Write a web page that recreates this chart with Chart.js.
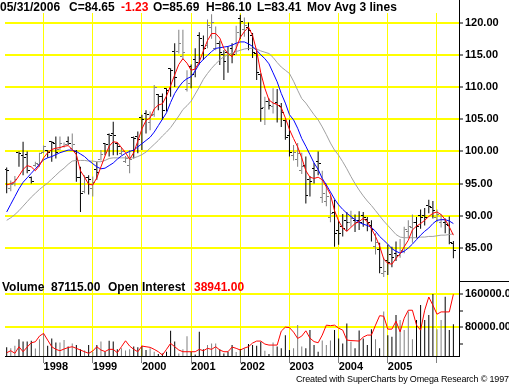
<!DOCTYPE html>
<html><head><meta charset="utf-8">
<script src="https://cdn.jsdelivr.net/npm/chart.js@4.4.1/dist/chart.umd.min.js"></script>
<style>
html,body{margin:0;padding:0;background:#fff;}
#wrap{position:relative;width:509px;height:384px;overflow:hidden;background:#fff;}
#c{position:absolute;left:0;top:0;}
.t{position:absolute;font:bold 12px "Liberation Sans",Arial,sans-serif;line-height:12px;white-space:nowrap;color:#000;}
.red{color:#ff0000;}
#foot{position:absolute;left:296px;top:375px;font:9px "Liberation Sans",Arial,sans-serif;line-height:9px;letter-spacing:-0.15px;white-space:nowrap;color:#000;}
</style></head><body>
<div id="wrap">
<canvas id="c" width="509" height="384"></canvas>
<span class="t" id="h0" style="left:0px;top:1px"></span>
<span class="t" id="h1" style="left:69px;top:1px"></span>
<span class="t red" id="h2" style="left:121px;top:1px"></span>
<span class="t" id="h3" style="left:153px;top:1px"></span>
<span class="t" id="h4" style="left:206px;top:1px"></span>
<span class="t" id="h5" style="left:257px;top:1px"></span>
<span class="t" id="h6" style="left:307px;top:1px">Mov Avg 3 lines</span>
<span class="t" style="left:2px;top:281px">Volume</span>
<span class="t" id="v1" style="left:51px;top:281px"></span>
<span class="t" style="left:108px;top:281px">Open Interest</span>
<span class="t red" id="v2" style="left:194px;top:281px"></span>
<span id="foot">Created with SuperCharts by Omega Research © 1997</span>
</div>
<script>
// ---- data (monthly bars, April 1997 .. May 2006) ----
const firstYear = 1997, firstMonth = 4;
const lastDate = '05/31/2006';

const opens = [
 97.2,94.3,95.0,99.9,99.3,99.5,96.0,97.8,98.0,
 99.9,100.1,101.5,101.2,100.3,100.7,101.5,100.4,100.0,96.0,93.8,96.0,
 94.3,97.2,98.8,101.2,102.7,102.8,101.2,99.6,98.5,97.8,102.2,102.3,
 105.2,105.9,104.5,105.8,108.8,108.5,109.7,112.8,115.5,115.5,114.8,109.6,
 113.2,114.2,118.0,116.5,116.5,119.2,116.0,116.8,115.0,115.3,116.0,115.5,
 120.6,119.0,119.3,118.0,115.2,112.0,106.8,107.7,107.0,107.6,107.0,104.8,
 102.4,99.3,98.8,97.0,97.8,95.6,97.4,98.5,92.8,92.3,89.8,90.5,
 87.7,88.4,89.2,89.0,89.3,89.3,90.0,89.4,88.5,85.2,84.8,81.0,
 83.0,84.0,84.2,83.8,84.5,87.6,88.2,88.9,90.0,90.1,91.6,91.3,
 89.7,88.9,89.0,88.5,85.69];
const highs = [
 97.5,95.5,96.2,100.0,101.5,100.0,96.1,98.4,99.8,
 100.9,100.2,101.6,102.3,102.3,101.4,102.3,102.8,100.2,97.6,96.3,96.3,
 96.1,98.4,100.2,101.3,102.8,104.6,101.4,100.7,99.3,100.2,102.3,103.1,
 105.7,106.4,106.2,110.3,108.9,109.0,109.8,112.9,116.8,118.9,118.9,112.6,
 113.5,116.0,118.5,118.0,120.5,121.3,119.4,117.2,115.7,116.3,116.8,119.5,
 121.2,120.8,120.0,118.4,115.7,112.1,108.5,108.2,109.8,109.7,107.5,104.9,
 104.9,101.0,101.3,99.8,99.2,96.2,98.2,100.0,97.0,95.0,93.2,92.5,
 89.2,90.3,90.6,90.8,90.2,90.7,90.6,89.8,89.3,87.3,85.8,83.5,
 85.5,85.2,86.0,86.4,88.3,89.3,90.2,89.8,91.0,91.2,92.5,92.3,
 91.0,90.3,89.6,89.9,86.10];
const lows = [
 93.5,93.8,94.6,97.6,96.3,96.6,95.0,97.6,97.6,
 99.7,99.0,98.4,98.9,100.2,100.6,101.0,100.2,95.3,90.6,93.5,93.3,
 93.0,95.6,98.6,99.4,99.2,99.4,99.4,99.4,98.2,96.6,98.9,99.7,
 100.2,102.8,103.3,105.4,106.4,104.9,106.2,108.5,110.0,115.2,114.2,109.3,
 109.8,111.5,113.5,114.2,116.0,117.5,115.7,113.4,111.1,112.2,113.7,115.0,
 117.5,117.8,115.7,114.5,111.1,104.6,104.1,106.5,105.9,104.5,103.8,101.8,
 99.2,98.6,97.6,96.5,91.9,93.0,95.0,96.3,92.0,91.5,89.0,85.2,
 85.5,86.8,87.6,88.3,87.5,87.8,88.3,87.6,86.0,84.0,81.1,80.5,
 80.8,82.0,83.0,83.5,84.2,86.5,85.8,86.5,88.0,88.5,90.4,89.6,
 89.0,88.2,87.3,85.6,83.41];
const closes = [
 97.0,94.8,95.6,99.7,99.0,97.0,95.4,98.2,99.7,
 100.7,99.8,101.4,99.8,101.3,101.0,101.3,101.0,96.0,93.5,96.0,95.6,
 95.2,96.8,99.5,101.0,102.5,102.5,100.7,100.0,98.9,98.7,102.0,101.8,
 104.9,105.7,105.6,110.0,108.6,106.4,109.5,112.6,111.5,116.8,115.3,110.5,
 112.0,113.8,117.6,116.0,119.6,120.0,116.8,115.3,113.9,115.0,115.0,118.5,
 120.2,119.6,118.8,115.4,112.2,106.6,107.7,107.2,107.5,107.2,106.0,102.2,
 99.9,99.9,99.6,97.6,93.2,95.3,97.1,98.2,93.4,93.0,90.3,87.2,
 87.3,88.1,88.9,89.6,88.9,89.0,89.7,88.9,87.8,85.8,81.9,81.4,
 82.7,83.6,83.9,84.6,87.8,88.3,89.0,88.3,89.7,89.8,91.4,90.9,
 90.2,89.4,88.6,85.88,84.65];

const maFast = [
 94.8,95.0,95.3,96.2,97.2,97.8,97.6,97.0,97.8,
 99.0,99.8,100.3,100.5,100.6,100.8,100.9,100.3,99.5,97.0,96.0,94.9,
 94.8,95.9,97.6,99.3,100.8,101.5,101.4,100.6,99.8,98.8,99.8,101.6,
 103.5,104.8,105.2,106.6,107.2,107.4,108.6,110.2,111.9,113.5,114.4,113.7,
 112.6,112.8,113.9,115.6,117.2,118.3,118.3,117.6,116.0,115.2,114.7,116.0,
 117.7,118.6,119.3,118.0,115.6,112.2,109.8,108.0,107.5,107.3,106.8,105.2,
 103.4,102.0,100.7,99.0,97.0,96.0,95.8,96.0,95.6,94.5,93.3,90.8,
 89.2,88.1,87.6,88.2,88.8,89.1,89.6,89.1,88.0,86.8,85.3,83.3,
 82.6,82.5,83.4,84.1,85.2,86.2,87.8,88.4,88.8,89.3,89.9,90.4,
 90.6,90.2,89.4,88.3,87.0];
const maMid = [
 90.6,91.8,93.0,94.2,95.2,95.9,96.6,97.3,98.0,
 98.7,99.0,99.2,99.5,99.8,100.0,100.2,100.2,100.0,99.6,99.2,98.6,
 98.1,97.6,97.3,97.4,97.8,98.2,98.8,99.3,99.7,100.0,100.2,100.7,
 101.2,101.7,102.2,103.0,104.0,105.0,106.0,107.6,109.0,110.0,110.8,111.3,
 111.6,112.5,113.6,114.3,114.9,115.5,116.0,116.1,116.2,116.3,116.5,116.8,
 117.0,117.0,116.7,116.3,115.7,115.0,114.4,113.6,112.2,110.8,109.0,107.5,
 105.7,104.9,103.6,102.0,100.8,99.5,98.2,97.2,95.8,94.8,93.7,92.6,
 91.7,91.0,90.4,89.9,89.4,89.0,88.7,88.5,88.2,87.6,86.8,86.2,
 85.6,84.9,84.5,84.2,84.5,85.0,85.6,86.3,87.0,87.6,88.1,88.8,
 89.3,89.4,89.4,89.2,88.8];
const maSlow = [
 89.3,89.7,90.2,90.8,91.5,92.2,92.9,93.5,94.1,
 94.6,95.1,95.7,96.3,96.9,97.4,98.0,98.5,98.6,98.6,98.6,98.5,
 98.5,98.4,98.4,98.6,98.9,99.0,99.0,99.0,99.0,99.0,99.0,99.2,
 99.5,99.9,100.5,101.1,101.7,102.4,103.0,103.7,104.6,105.5,106.5,107.1,
 107.8,108.9,110.0,111.2,112.1,112.9,113.6,114.2,114.7,115.0,115.3,115.5,
 115.7,115.9,116.0,116.0,115.9,115.6,115.4,115.2,114.6,113.8,113.1,112.6,
 112.1,110.9,109.5,108.2,107.5,106.6,105.7,104.9,103.8,102.6,101.3,100.2,
 99.4,98.4,97.3,96.1,95.0,94.0,93.1,92.3,91.6,90.8,90.0,89.2,
 88.5,87.8,87.1,86.7,86.6,86.6,86.6,86.6,86.7,86.7,86.8,86.8,
 86.9,87.0,87.0,87.1,87.2];

const volume = [
 31500,29000,35000,51000,45500,45500,47500,28800,51000,
 65500,35000,53000,43000,43000,49000,33500,41000,37000,26500,23500,37000,
 20000,37000,45500,21000,47500,45500,26500,29000,23500,26500,33500,31500,
 35000,25000,29000,21000,15000,16500,21000,71800,45500,16500,26500,58000,
 21000,14000,69500,26500,37000,41000,41000,26500,16500,21000,37000,20000,
 27300,29000,39500,37000,35000,45000,23000,15000,43000,33500,29000,61000,
 25000,29000,85500,33500,29000,73500,37000,21000,48000,37000,48000,73500,
 53000,41000,89500,45000,29000,72000,53000,37000,75000,51000,29000,118000,
 61000,57000,110000,97500,73500,118000,51000,97500,134000,97500,110000,160500,
 75000,97500,154000,73500,87115];
const openInterest = [
 2070,3330,1700,5840,2700,5650,8350,8980,12560,
 14260,10050,5840,4200,3330,4400,5340,5840,4840,3770,2700,1700,
 3140,5840,3770,2830,4200,4200,2070,5840,9600,6280,4200,2700,
 6280,5840,5460,4200,2700,630,4200,7980,5840,3770,2700,2700,
 2700,2700,4200,3330,4840,4200,5840,3770,2700,2700,5650,4840,
 3770,5020,5840,8160,9420,9420,7540,6900,6900,6900,15700,18200,
 17900,15070,11100,12560,15900,11300,9100,8350,13190,19470,19150,19470,
 17580,16330,10050,9730,9600,9420,11930,13190,13190,19470,25430,25120,
 16960,16960,21980,15260,23860,28890,28890,19470,16330,28890,37240,32030,
 26380,27820,27820,27820,38941];

const yearTickLabels = ['1998','1999','2000','2001','2002','2003','2004','2005',''];
const yearTickYears  = [1998,1999,2000,2001,2002,2003,2004,2005,2006];
const priceTicks = [85,90,95,100,105,110,115,120];
const volumeTicks = [40000,80000,120000,160000];
const volumeLabelled = [80000,160000];

// ---- helpers ----
const baseYear = 1998;
const startOffset = (firstYear - baseYear) * 12 + (firstMonth - 1);
const xs = closes.map((_, i) => startOffset + i);            // months since Jan 1998
const yearTickMonths = yearTickYears.map(y => (y - baseYear) * 12);
const isUp = i => closes[i] > opens[i];
const BLACK = '#000000', GREY = '#808080';
const pts = arr => arr.map((v, i) => ({x: xs[i], y: v}));

function tickImg(color, side) {
  const c = document.createElement('canvas'); c.width = 5; c.height = 1;
  const g = c.getContext('2d'); g.fillStyle = color;
  if (side === 'L') g.fillRect(0, 0, 2, 1); else g.fillRect(3, 0, 2, 1);
  return c;
}
const openImg = {up: tickImg(GREY, 'L'), dn: tickImg(BLACK, 'L')};
const closeImg = {up: tickImg(GREY, 'R'), dn: tickImg(BLACK, 'R')};

// ---- header texts ----
const L = closes.length - 1;
document.getElementById('h0').textContent = lastDate;
document.getElementById('h1').textContent = 'C=' + closes[L].toFixed(2);
document.getElementById('h2').textContent = (closes[L] - closes[L - 1]).toFixed(2);
document.getElementById('h3').textContent = 'O=' + opens[L].toFixed(2);
document.getElementById('h4').textContent = 'H=' + highs[L].toFixed(2);
document.getElementById('h5').textContent = 'L=' + lows[L].toFixed(2);
document.getElementById('v1').textContent = volume[L].toFixed(2);
document.getElementById('v2').textContent = openInterest[L].toFixed(2);

const FONT = '"Liberation Sans", Arial, sans-serif';
Chart.defaults.font.family = FONT;

const extras = {
  id: 'extras',
  beforeDatasetsDraw(chart) { chart.ctx.imageSmoothingEnabled = false; },
  afterDraw(chart) {
    const ctx = chart.ctx, y = chart.scales.y, v = chart.scales.v;
    ctx.save();
    ctx.strokeStyle = '#000'; ctx.lineWidth = 1;
    ctx.beginPath();
    ctx.moveTo(Math.round(y.left) + 0.5, 0); ctx.lineTo(Math.round(y.left) + 0.5, chart.chartArea.top);
    ctx.moveTo(y.left, Math.round(v.top) + 0.5); ctx.lineTo(chart.width, Math.round(v.top) + 0.5);
    ctx.stroke();
    ctx.restore();
  }
};

const tickFont = {family: FONT, size: 11, weight: 'bold'};

new Chart(document.getElementById('c'), {
  data: {
    datasets: [
      {type: 'line', label: 'MA fast', data: pts(maFast), yAxisID: 'y', borderColor: '#ff0000', borderWidth: 1, pointRadius: 0, order: 1},
      {type: 'line', label: 'MA mid', data: pts(maMid), yAxisID: 'y', borderColor: '#0000ff', borderWidth: 1, pointRadius: 0, order: 2},
      {type: 'line', label: 'MA slow', data: pts(maSlow), yAxisID: 'y', borderColor: '#a0a0a0', borderWidth: 1, pointRadius: 0, order: 3},
      {type: 'line', label: 'Open Interest', data: pts(openInterest), yAxisID: 'oi', borderColor: '#ff0000', borderWidth: 1, pointRadius: 0, order: 2},
      {type: 'line', label: 'Open', data: pts(opens), yAxisID: 'y', showLine: false, pointRadius: 2,
        pointStyle: c => isUp(c.dataIndex) ? openImg.up : openImg.dn, order: 4},
      {type: 'line', label: 'Close', data: pts(closes), yAxisID: 'y', showLine: false, pointRadius: 2,
        pointStyle: c => isUp(c.dataIndex) ? closeImg.up : closeImg.dn, order: 4},
      {type: 'bar', label: 'Range', data: highs.map((h, i) => ({x: xs[i], y: [lows[i], h]})), yAxisID: 'y',
        backgroundColor: c => isUp(c.dataIndex) ? GREY : BLACK, barThickness: 1, inflateAmount: 0, borderWidth: 0, grouped: false, order: 6},
      {type: 'bar', label: 'Volume', data: pts(volume), yAxisID: 'v',
        backgroundColor: c => isUp(c.dataIndex) ? GREY : BLACK, barThickness: 1, inflateAmount: 0, borderWidth: 0, grouped: false, order: 7}
    ]
  },
  options: {
    responsive: false, devicePixelRatio: 1, animation: false, events: [],
    layout: {padding: {top: 13, left: 0, right: 0, bottom: 0}},
    plugins: {legend: {display: false}, tooltip: {enabled: false}, title: {display: false}},
    scales: {
      x: {
        type: 'linear', position: 'bottom', min: -9.41, max: 101.37, offset: false,
        afterBuildTicks: s => { s.ticks = yearTickMonths.map(v => ({value: v})); },
        afterFit: s => { s.height = 28; },
        ticks: {autoSkip: false, maxRotation: 0, minRotation: 0, align: 'start', padding: -3, color: '#000', font: tickFont,
          callback: (v, i) => yearTickLabels[i]},
        grid: {offset: false, color: '#ffff00', lineWidth: 1, tickColor: '#808080', tickLength: 7, tickWidth: 1},
        border: {display: true, color: '#000', width: 1}
      },
      y: {
        type: 'linear', position: 'right', stack: 'panels', stackWeight: 268, min: 79.88, max: 121.49,
        afterBuildTicks: s => { s.ticks = priceTicks.map(v => ({value: v})); },
        afterFit: s => { s.width = 50; },
        ticks: {autoSkip: false, padding: 2, color: '#000', font: tickFont, callback: v => Number(v).toFixed(2)},
        grid: {color: '#ffff00', lineWidth: 2, tickColor: '#000', tickLength: 4, tickWidth: 1},
        border: {display: true, color: '#000', width: 1}
      },
      v: {
        type: 'linear', position: 'right', stack: 'panels', stackWeight: 75, min: 10424, max: 192240,
        afterBuildTicks: s => { s.ticks = volumeTicks.map(v => ({value: v})); },
        afterFit: s => { s.width = 50; },
        ticks: {autoSkip: false, padding: 2, color: '#000', font: tickFont,
          callback: v => volumeLabelled.includes(v) ? Number(v).toFixed(2) : ''},
        grid: {color: c => (c.tick && volumeLabelled.includes(c.tick.value)) ? '#ffff00' : 'rgba(0,0,0,0)',
          lineWidth: 2, tickColor: '#000', tickLength: 4, tickWidth: 1},
        border: {display: true, color: '#000', width: 1}
      },
      oi: {type: 'linear', display: false, position: 'right', min: 0, max: 216470}
    }
  },
  plugins: [extras]
});
</script>
</body></html>
